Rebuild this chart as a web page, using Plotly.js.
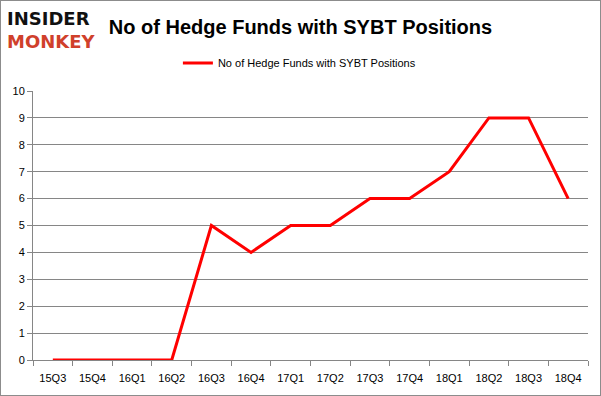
<!DOCTYPE html>
<html><head><meta charset="utf-8">
<script src="https://cdn.plot.ly/plotly-3.0.1.min.js"></script>
<style>html,body{margin:0;padding:0;background:#fff}#c{width:599px;height:394px;border:1px solid #8c8c8c}</style>
</head><body><div id="c"></div>
<script>
const quarters = ["15Q3","15Q4","16Q1","16Q2","16Q3","16Q4","17Q1","17Q2","17Q3","17Q4","18Q1","18Q2","18Q3","18Q4"];
const hedgeFunds = [0,0,0,0,5,4,5,5,6,6,7,9,9,6];
const yTicks = [0,1,2,3,4,5,6,7,8,9,10];
const seriesName = "No of Hedge Funds with SYBT Positions";

Plotly.newPlot("c", [{
  x: quarters, y: hedgeFunds, type: "scatter", mode: "lines", name: seriesName,
  line: {color: "#ff0000", width: 3}
}], {
  width: 599, height: 394,
  margin: {l: 32, r: 12, t: 90, b: 35},
  paper_bgcolor: "#fff", plot_bgcolor: "#fff",
  title: {text: "<b>" + seriesName + "</b>", x: 0.5, xanchor: "center", y: 0.935, yanchor: "middle",
          font: {family: "Liberation Sans, Arial", size: 20, color: "#000"}},
  showlegend: true,
  legend: {orientation: "h", x: 0.48, xanchor: "center", y: 1.104, yanchor: "middle",
           font: {family: "Liberation Sans, Arial", size: 11, color: "#000"}},
  xaxis: {type: "category", range: [-0.5, 13.5], tickson: "boundaries", ticks: "outside", ticklen: 5,
          ticklabelstandoff: 8,
          tickcolor: "#868686", showline: true, linecolor: "#868686", showgrid: false,
          tickfont: {family: "Liberation Sans, Arial", size: 11, color: "#000"}, fixedrange: true},
  yaxis: {range: [0, 10], tickvals: yTicks, ticks: "outside", ticklen: 5, tickcolor: "#868686",
          showline: true, linecolor: "#868686", showgrid: true, gridcolor: "#868686", gridwidth: 1,
          zeroline: false, tickfont: {family: "Liberation Sans, Arial", size: 11, color: "#000"}, fixedrange: true},
  annotations: [
    {text: "<b><span style='color:#111'>INSIDER</span><br><span style='color:#d0402b'>MONKEY</span></b>",
     xref: "paper", yref: "paper", x: -0.05, y: 1.225, xanchor: "left", yanchor: "middle", align: "left",
     showarrow: false, font: {family: "DejaVu Sans", size: 18, color: "#111"}}
  ]
}, {displayModeBar: false, staticPlot: true});
</script></body></html>
